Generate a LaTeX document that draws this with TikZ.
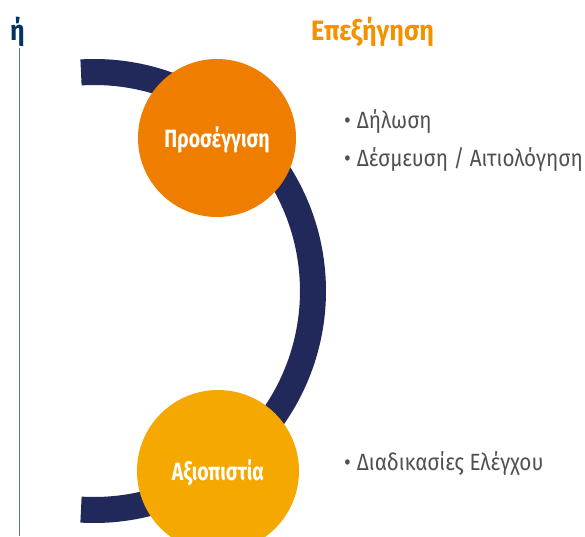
\documentclass[tikz,border=0pt]{standalone}
\usepackage{fontspec}
\setmainfont{Fira Sans}
\newfontfamily\stagefont[FakeStretch=0.78]{Fira Sans}
\newfontfamily\headfont[FakeStretch=0.9]{Fira Sans}
\newfontfamily\bulletfont[FakeStretch=0.88]{Fira Sans}
\usetikzlibrary{positioning}
\definecolor{navyband}{RGB}{32,41,89}
\definecolor{deeporange}{RGB}{239,125,0}
\definecolor{amber}{RGB}{245,168,0}
\definecolor{titleorange}{RGB}{243,146,0}
\definecolor{darkblue}{RGB}{0,51,102}
\definecolor{rulegray}{RGB}{96,116,150}
\definecolor{textgray}{RGB}{80,80,80}

\begin{document}
\begin{tikzpicture}[x=1pt, y=-1pt,
  stage/.style={circle, inner sep=0pt, text=white, text height=18pt, text depth=0pt,
    font=\stagefont\bfseries\fontsize{25}{25}\selectfont},
  bullet/.style={anchor=base west, inner sep=0pt, text=textgray,
    font=\bulletfont\fontsize{23.5}{23.5}\selectfont},
  heading/.style={anchor=base west, inner sep=0pt,
    font=\headfont\bfseries\fontsize{28}{28}\selectfont}]
\clip (0,0) rectangle (585,536);
\fill[white] (0,0) rectangle (585,536);
% left rule
\coordinate (ruletop) at (19.5,48);
\coordinate (rulebot) at (19.5,536);
\draw[rulegray, line width=1.5pt] (ruletop) -- (rulebot);
% band behind the circles
\coordinate (bandtop) at (81,72.4);
\draw[navyband, line width=26pt] (bandtop) arc[start angle=-93.4, end angle=93.4, radius=219];
% circles
\node[stage, fill=deeporange, minimum size=158pt] (approach) at (217,138) {Προσέγγιση};
\node[stage, fill=amber, minimum size=162pt] (trust) at (218,471) {Αξιοπιστία};
% headings
\node[heading, text=darkblue] (frag) at (10,40) {ή};
\node[heading, text=titleorange] (title) at (311,40) {Επεξήγηση};
% bullets
\node[bullet] (decl) at (344,128) {•\hspace{6pt}Δήλωση};
\node[bullet] (commit) at (344,166) {•\hspace{6pt}Δέσμευση / Αιτιολόγηση};
\node[bullet] (audit) at (344,470) {•\hspace{6pt}Διαδικασίες Ελέγχου};
\end{tikzpicture}
\end{document}
